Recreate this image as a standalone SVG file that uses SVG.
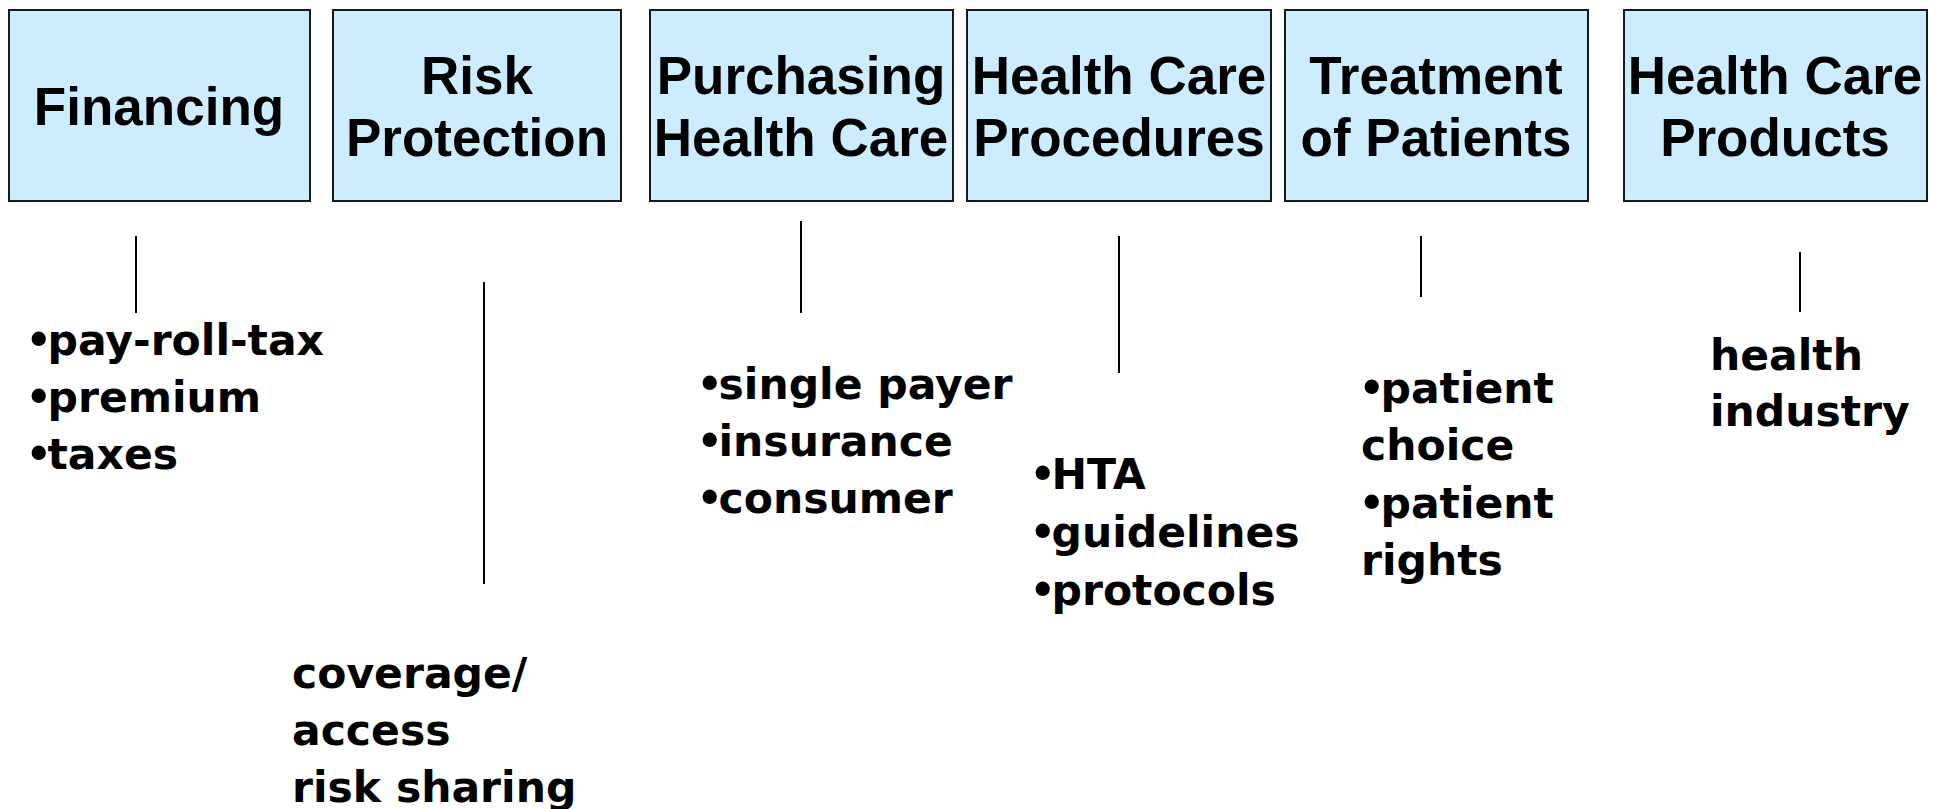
<svg xmlns="http://www.w3.org/2000/svg" width="1937" height="809" viewBox="0 0 1937 809">
<style>
.box{fill:#CCECFF;stroke:#1a1a1a;stroke-width:2}
.title{font-family:"Liberation Sans",Arial,sans-serif;font-weight:bold;font-size:53px;fill:#000;text-anchor:middle}
.item{font-family:"DejaVu Sans",Verdana,sans-serif;font-weight:bold;font-size:42.5px;fill:#000}
.b{font-family:"Liberation Sans",Arial,sans-serif;font-size:50px}
.conn{stroke:#000;stroke-width:2;fill:none}
</style>
<rect width="1937" height="809" fill="#fff"/>
<g id="node-financing">
<rect class="box" x="9" y="10" width="301" height="191"/>
<text class="title" x="159" y="125">Financing</text>
</g>
<g id="node-risk-protection">
<rect class="box" x="333" y="10" width="288" height="191"/>
<text class="title" x="477" y="94">Risk</text>
<text class="title" x="477" y="156">Protection</text>
</g>
<g id="node-purchasing">
<rect class="box" x="650" y="10" width="303" height="191"/>
<text class="title" x="801" y="94">Purchasing</text>
<text class="title" x="801" y="156">Health Care</text>
</g>
<g id="node-procedures">
<rect class="box" x="967" y="10" width="304" height="191"/>
<text class="title" x="1119" y="94">Health Care</text>
<text class="title" x="1119" y="156">Procedures</text>
</g>
<g id="node-treatment">
<rect class="box" x="1285" y="10" width="303" height="191"/>
<text class="title" x="1436" y="94">Treatment</text>
<text class="title" x="1436" y="156">of Patients</text>
</g>
<g id="node-products">
<rect class="box" x="1624" y="10" width="303" height="191"/>
<text class="title" x="1775" y="94">Health Care</text>
<text class="title" x="1775" y="156">Products</text>
</g>
<g id="connectors">
<line class="conn" x1="136" y1="236" x2="136" y2="313"/>
<line class="conn" x1="484" y1="282" x2="484" y2="584"/>
<line class="conn" x1="801" y1="221" x2="801" y2="313"/>
<line class="conn" x1="1119" y1="236" x2="1119" y2="373"/>
<line class="conn" x1="1421" y1="236" x2="1421" y2="297"/>
<line class="conn" x1="1800" y1="252" x2="1800" y2="312"/>
</g>
<g id="list-financing">
<text class="item" x="30" y="355"><tspan class="b">•</tspan>pay-roll-tax</text>
<text class="item" x="30" y="412"><tspan class="b">•</tspan>premium</text>
<text class="item" x="30" y="469"><tspan class="b">•</tspan>taxes</text>
</g>
<g id="list-risk">
<text class="item" x="292" y="688">coverage/</text>
<text class="item" x="292" y="745">access</text>
<text class="item" x="292" y="802">risk sharing</text>
</g>
<g id="list-purchasing">
<text class="item" x="701" y="399"><tspan class="b">•</tspan>single payer</text>
<text class="item" x="701" y="456"><tspan class="b">•</tspan>insurance</text>
<text class="item" x="701" y="513"><tspan class="b">•</tspan>consumer</text>
</g>
<g id="list-procedures">
<text class="item" x="1034" y="489"><tspan class="b">•</tspan>HTA</text>
<text class="item" x="1034" y="547"><tspan class="b">•</tspan>guidelines</text>
<text class="item" x="1034" y="605"><tspan class="b">•</tspan>protocols</text>
</g>
<g id="list-treatment">
<text class="item" x="1363" y="403"><tspan class="b">•</tspan>patient</text>
<text class="item" x="1361" y="460">choice</text>
<text class="item" x="1363" y="518"><tspan class="b">•</tspan>patient</text>
<text class="item" x="1361" y="575">rights</text>
</g>
<g id="list-products">
<text class="item" x="1710" y="370">health</text>
<text class="item" x="1710" y="426">industry</text>
</g>
</svg>
